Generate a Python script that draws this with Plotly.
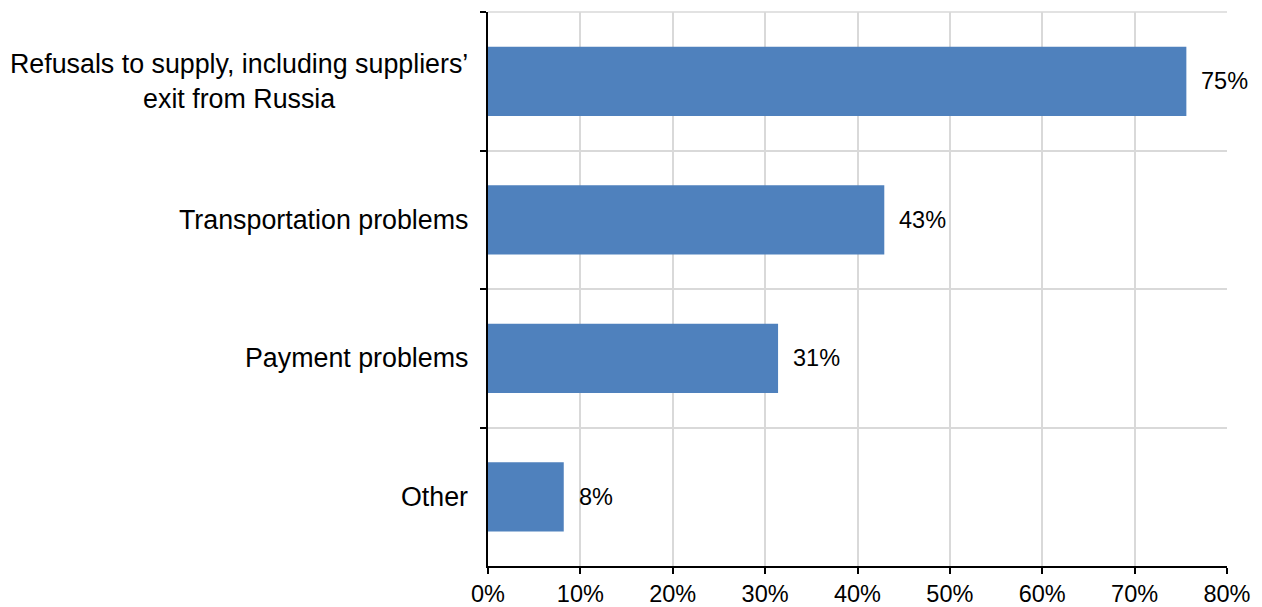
import plotly.graph_objects as go

categories = ["Refusals to supply, including suppliers’<br>exit from Russia",
              "Transportation problems", "Payment problems", "Other"]
values = [75.6, 42.9, 31.4, 8.2]
labels = ["75%", "43%", "31%", "8%"]
x_ticks = [0, 10, 20, 30, 40, 50, 60, 70, 80]
x_tick_labels = ["0%", "10%", "20%", "30%", "40%", "50%", "60%", "70%", "80%"]

FONT = "Liberation Sans, Arial, sans-serif"
CAT_SIZE = 26.8
NUM_SIZE = 23.5

fig = go.Figure(go.Bar(
    y=categories, x=values, orientation="h",
    marker=dict(color="#4F81BD", line=dict(width=0)),
    width=0.5, hoverinfo="skip",
))

for c, v, t in zip(categories, values, labels):
    fig.add_annotation(x=v, y=c, text=t, showarrow=False, xanchor="left",
                       xshift=13, font=dict(family=FONT, size=NUM_SIZE, color="#000"))

for c in categories:
    fig.add_annotation(x=0, xref="paper", y=c, text=c, showarrow=False,
                       xanchor="right", yanchor="middle", align="center",
                       xshift=-18, font=dict(family=FONT, size=CAT_SIZE, color="#000"))

fig.add_shape(type="line", xref="paper", yref="paper", x0=0, x1=1, y0=1, y1=1,
              line=dict(color="#D9D9D9", width=1.5), layer="below")

fig.update_layout(
    width=1254, height=599,
    margin=dict(l=480, r=35, t=4, b=41),
    plot_bgcolor="white", paper_bgcolor="white",
    font=dict(family=FONT, size=NUM_SIZE, color="#000"),
    showlegend=False,
    xaxis=dict(range=[0, 80], tickvals=x_ticks, ticktext=x_tick_labels,
               showgrid=True, gridcolor="#D9D9D9", gridwidth=1.5,
               showline=True, linecolor="#000", linewidth=1.8,
               ticks="outside", ticklen=6, tickcolor="#000", tickwidth=1.8,
               tickfont=dict(size=NUM_SIZE), zeroline=False, fixedrange=True,
               automargin=False),
    yaxis=dict(categoryorder="array", categoryarray=categories,
               autorange="reversed", showline=True, linecolor="#000", linewidth=1.8,
               ticks="outside", ticklen=6, tickcolor="#000", tickwidth=1.8,
               tickson="boundaries", showgrid=True, gridcolor="#D9D9D9", gridwidth=1.5,
               showticklabels=False, fixedrange=True, automargin=False),
)

fig.write_html("out.html")
